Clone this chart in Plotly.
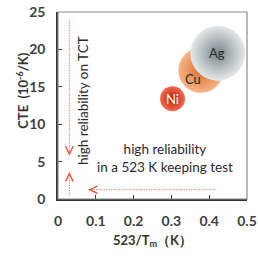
import plotly.graph_objects as go

metals = ["Ni", "Cu", "Ag"]
x_val = [0.303, 0.378, 0.423]
cte = [13.4, 17.2, 19.5]
bubble_size = [25, 45, 55]
edge_color = ["#b71c10", "#d8702f", "#7a878b"]
center_color = ["#f26a4f", "#f7b488", "#e4e9ea"]
label_color = ["white", "#2a2a2a", "#2a2a2a"]
label_shift = [(0, 0), (-8, -9), (-1, 0)]

x_ticks = [0, 0.1, 0.2, 0.3, 0.4, 0.5]
x_tick_text = ["0", "0.1", "0.2", "0.3", "0.4", "0.5"]
y_ticks = [0, 5, 10, 15, 20, 25]

# arrow geometry (data coords)
v_line_x = 0.03
v_down = (23.9, 5.8)
v_up = (0.4, 3.6)
h_line_y = 1.25
h_left = (0.415, 0.08)

red = "#e35a45"
FONT = "Lato"

fig = go.Figure()
for i, m in enumerate(metals):
    fig.add_trace(go.Scatter(
        x=[x_val[i]], y=[cte[i]], mode="markers",
        marker=dict(size=bubble_size[i], color=center_color[i],
                    gradient=dict(type="radial", color=edge_color[i]),
                    line=dict(width=0)),
        showlegend=False, hoverinfo="skip"))

for i, m in enumerate(metals):
    fig.add_annotation(x=x_val[i], y=cte[i], text=m, showarrow=False,
                       xshift=label_shift[i][0], yshift=label_shift[i][1],
                       font=dict(family=FONT, size=13, color=label_color[i]))

dot = dict(color=red, width=1, dash="1px,1.5px")
fig.add_shape(type="line", x0=v_line_x, x1=v_line_x, y0=v_down[0], y1=v_down[1], line=dot)
fig.add_shape(type="line", x0=v_line_x, x1=v_line_x, y0=v_up[0], y1=v_up[1], line=dot)
fig.add_shape(type="line", x0=h_left[0], x1=h_left[1], y0=h_line_y, y1=h_line_y, line=dot)

def head(x, y, ax, ay):
    fig.add_annotation(x=x, y=y, ax=ax, ay=ay, axref="pixel", ayref="pixel",
                       showarrow=True, arrowhead=5, arrowsize=1.5, arrowwidth=1,
                       arrowcolor=red, text=".", font=dict(size=1, color="rgba(0,0,0,0)"))

head(v_line_x, v_down[1], 0, -6)
head(v_line_x, v_up[1], 0, 6)
head(h_left[1], h_line_y, 6, 0)

fig.add_annotation(x=0.068, y=13.2, text="high reliability on TCT", textangle=-90,
                   showarrow=False, font=dict(family=FONT, size=13.5, color="#2a2a2a"))
fig.add_annotation(x=0.282, y=5.45, text="high reliability<br>in a 523 K keeping test",
                   showarrow=False, align="center",
                   font=dict(family=FONT, size=13.5, color="#2a2a2a"))

fig.add_shape(type="rect", xref="paper", yref="paper", x0=0, x1=1, y0=0, y1=1,
              line=dict(color="#8a8a8a", width=1.2))

fig.add_annotation(xref="paper", yref="paper", x=-0.245, y=0.58,
                   text="<b>CTE  (10<sup>-6</sup>/K)</b>", textangle=-90, showarrow=False,
                   font=dict(family=FONT, size=13, color="#333"))

fig.update_layout(
    width=258, height=257,
    margin=dict(l=58, r=11, t=12, b=58),
    paper_bgcolor="white", plot_bgcolor="white",
    xaxis=dict(range=[0, 0.5], tickvals=x_ticks, ticktext=x_tick_text, automargin=False,
               ticks="inside", ticklen=4, tickcolor="#333", showgrid=False,
               zeroline=False, showline=True, linecolor="#333", linewidth=1.5,
               tickfont=dict(family=FONT, size=14, color="#404040", weight="bold"),
               ticklabelstandoff=8,
               title=dict(text="<b>523/T<sub>m</sub>（K）</b>", standoff=8,
                          font=dict(family=FONT, size=13, color="#333"))),
    yaxis=dict(range=[0, 25], tickvals=y_ticks, ticks="inside", ticklen=4, automargin=False,
               tickcolor="#333", showgrid=False, zeroline=False, showline=True,
               linecolor="#333", linewidth=1.5, ticklabelstandoff=8,
               tickfont=dict(family=FONT, size=14, color="#404040", weight="bold")),
)

fig.write_html("out.html")
